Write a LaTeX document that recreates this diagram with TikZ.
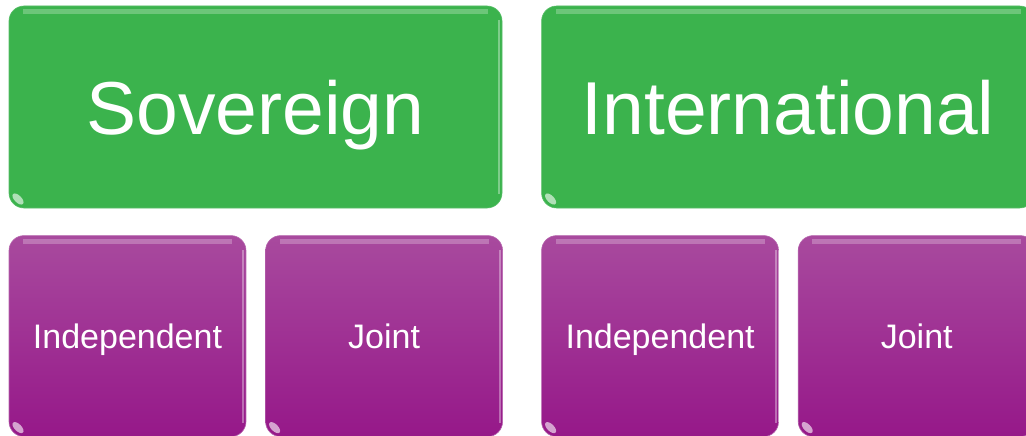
\documentclass[tikz,border=0pt]{standalone}
\usepackage{fontspec}
\setmainfont{Liberation Sans}
\usetikzlibrary{positioning}
\definecolor{leafgreen}{RGB}{59,179,77}
\definecolor{plumtop}{RGB}{168,74,158}
\definecolor{plumbot}{RGB}{150,24,137}

\begin{document}
\begin{tikzpicture}[
    x=1pt, y=1pt,
    % glassy shine: top band, right rim and a spot at the lower left corner
    gloss/.style={path picture={
      \begin{scope}[sharp corners]
      \fill[white, opacity=.25] ([xshift=14pt,yshift=-3pt]path picture bounding box.north west)
        rectangle ([xshift=-14pt,yshift=-8pt]path picture bounding box.north east);
      \fill[white, opacity=.35] ([xshift=-4pt,yshift=-14pt]path picture bounding box.north east)
        rectangle ([xshift=-2pt,yshift=14pt]path picture bounding box.south east);
      \fill[white, opacity=.6] ([xshift=9pt,yshift=9pt]path picture bounding box.south west)
        ellipse[x radius=7pt, y radius=3.5pt, rotate=-45];
      \end{scope}
    }},
    head/.style={gloss, rounded corners=15pt, fill=leafgreen,
      draw=leafgreen!85!white, line width=.6pt,
      minimum width=493pt, minimum height=202pt, inner sep=0pt,
      text=white, font=\fontsize{75}{80}\selectfont,
      text height=54pt, text depth=0pt},
    kind/.style={gloss, rounded corners=15pt, top color=plumtop, bottom color=plumbot,
      draw=plumtop!85!white, line width=.6pt,
      minimum width=237pt, minimum height=201pt, inner sep=0pt,
      text=white, font=\fontsize{34}{40}\selectfont,
      text height=24.5pt, text depth=0pt}
  ]
  \useasboundingbox (0,0) rectangle (1026,-436);
  \clip (0,0) rectangle (1026,-436);

  \node[head] (sov) at (255.5,-107) {Sovereign};
  \node[head, right=39pt of sov] (intl) {International};

  \node[kind, below=27pt of sov.south west, anchor=north west] (sovInd) {Independent};
  \node[kind, right=19pt of sovInd] (sovJoint) {Joint};
  \node[kind, below=27pt of intl.south west, anchor=north west] (intlInd) {Independent};
  \node[kind, right=19pt of intlInd] (intlJoint) {Joint};
\end{tikzpicture}
\end{document}
